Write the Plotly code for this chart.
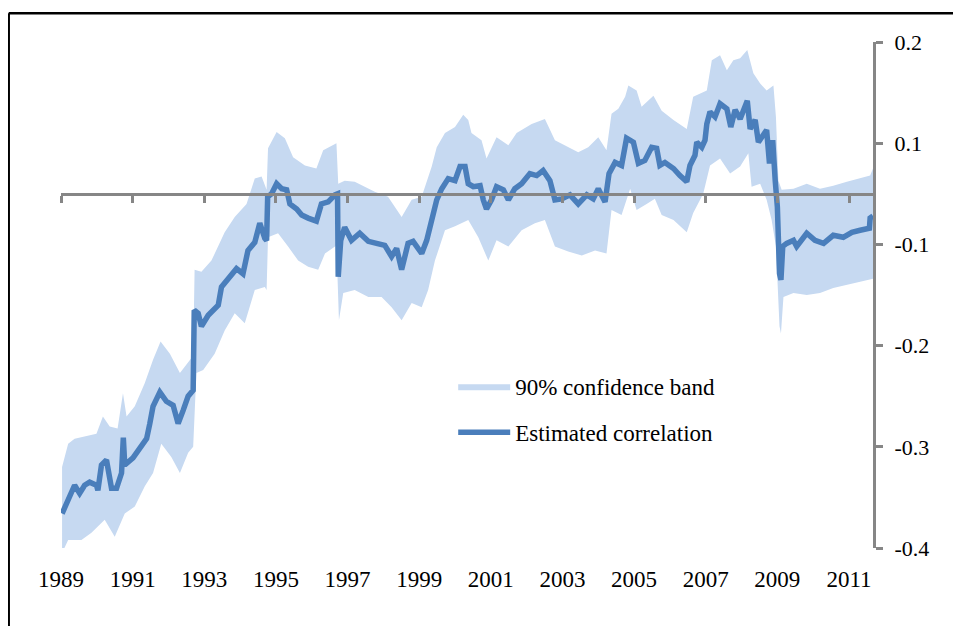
import plotly.graph_objects as go

# Estimated correlation (decimal years)
corr_year = [1989.03, 1989.20, 1989.38, 1989.52, 1989.66, 1989.80, 1989.99, 1990.03, 1990.13, 1990.27,
             1990.41, 1990.55, 1990.69, 1990.74, 1990.78, 1991.01, 1991.20, 1991.39, 1991.48, 1991.57,
             1991.76, 1991.94, 1992.13, 1992.27, 1992.41, 1992.55, 1992.69, 1992.72, 1992.83, 1992.92,
             1993.11, 1993.39, 1993.48, 1993.66, 1993.90, 1994.08, 1994.22, 1994.41, 1994.55, 1994.69,
             1994.74, 1994.77, 1994.88, 1995.02, 1995.16, 1995.30, 1995.39, 1995.58, 1995.72, 1995.90,
             1996.13, 1996.27, 1996.46, 1996.65, 1996.72, 1996.74, 1996.81, 1996.92, 1997.11, 1997.34,
             1997.58, 1997.81, 1998.04, 1998.23, 1998.37, 1998.51, 1998.69, 1998.83, 1999.07, 1999.21,
             1999.35, 1999.49, 1999.63, 1999.81, 2000.00, 2000.14, 2000.28, 2000.37, 2000.51, 2000.70,
             2000.79, 2000.88, 2001.02, 2001.16, 2001.35, 2001.49, 2001.67, 2001.86, 2002.09, 2002.28,
             2002.46, 2002.65, 2002.79, 2002.98, 2003.21, 2003.44, 2003.68, 2003.86, 2004.00, 2004.19,
             2004.30, 2004.47, 2004.65, 2004.79, 2004.98, 2005.12, 2005.30, 2005.49, 2005.63, 2005.72,
             2005.86, 2006.10, 2006.28, 2006.47, 2006.56, 2006.70, 2006.75, 2006.89, 2006.98, 2007.03,
             2007.12, 2007.26, 2007.40, 2007.59, 2007.70, 2007.82, 2007.96, 2008.10, 2008.16, 2008.24,
             2008.38, 2008.47, 2008.61, 2008.70, 2008.78, 2008.87, 2008.94, 2009.00, 2009.06, 2009.10,
             2009.15, 2009.26, 2009.45, 2009.54, 2009.82, 2010.05, 2010.29, 2010.56, 2010.84, 2011.08,
             2011.31, 2011.57, 2011.59, 2011.67]
corr_value = [-0.316, -0.301, -0.288, -0.296, -0.288, -0.285, -0.288, -0.293, -0.268, -0.263,
              -0.291, -0.291, -0.276, -0.241, -0.268, -0.261, -0.251, -0.242, -0.227, -0.210,
              -0.196, -0.205, -0.209, -0.227, -0.214, -0.200, -0.194, -0.115, -0.118, -0.131,
              -0.120, -0.110, -0.092, -0.084, -0.074, -0.079, -0.056, -0.048, -0.029, -0.044,
              -0.046, -0.003, 0.000, 0.010, 0.005, 0.004, -0.010, -0.015, -0.021, -0.024,
              -0.027, -0.010, -0.008, -0.001, 0.000, -0.082, -0.046, -0.033, -0.046, -0.039,
              -0.047, -0.049, -0.051, -0.062, -0.054, -0.075, -0.049, -0.047, -0.059, -0.046,
              -0.023, -0.006, 0.005, 0.015, 0.013, 0.027, 0.027, 0.010, 0.007, 0.008,
              -0.006, -0.015, -0.006, 0.007, 0.004, -0.006, 0.005, 0.010, 0.020, 0.018,
              0.023, 0.013, -0.006, -0.005, -0.001, -0.010, -0.001, -0.005, 0.005, -0.008,
              0.020, 0.031, 0.028, 0.055, 0.051, 0.030, 0.033, 0.046, 0.045, 0.028,
              0.031, 0.025, 0.018, 0.012, 0.028, 0.038, 0.051, 0.046, 0.053, 0.069,
              0.081, 0.076, 0.089, 0.084, 0.066, 0.083, 0.074, 0.089, 0.092, 0.064,
              0.073, 0.051, 0.060, 0.063, 0.030, 0.053, 0.013, -0.013, -0.079, -0.085,
              -0.052, -0.049, -0.046, -0.052, -0.039, -0.046, -0.049, -0.041, -0.043, -0.038,
              -0.036, -0.034, -0.024, -0.022]

# Upper edge of the 90% confidence band
upper_year = [1989.03, 1989.20, 1989.38, 1989.66, 1989.99, 1990.17, 1990.36, 1990.58, 1990.73, 1990.83,
              1991.06, 1991.34, 1991.57, 1991.78, 1992.04, 1992.32, 1992.55, 1992.69, 1992.73, 1992.92,
              1993.20, 1993.57, 1993.85, 1994.18, 1994.41, 1994.60, 1994.74, 1994.78, 1995.02, 1995.25,
              1995.48, 1995.81, 1996.13, 1996.32, 1996.69, 1996.74, 1996.92, 1997.20, 1997.48, 1997.76,
              1998.13, 1998.51, 1998.79, 1999.07, 1999.35, 1999.49, 1999.72, 2000.00, 2000.23, 2000.37,
              2000.46, 2000.74, 2000.88, 2001.16, 2001.49, 2001.72, 2002.14, 2002.51, 2002.79, 2003.07,
              2003.44, 2003.72, 2004.00, 2004.23, 2004.37, 2004.56, 2004.75, 2004.84, 2005.07, 2005.21,
              2005.54, 2005.77, 2006.10, 2006.47, 2006.65, 2007.03, 2007.17, 2007.40, 2007.59, 2007.77,
              2007.96, 2008.16, 2008.33, 2008.52, 2008.70, 2008.89, 2008.96, 2009.03, 2009.12, 2009.45,
              2009.82, 2010.19, 2010.56, 2010.94, 2011.31, 2011.59, 2011.67]
upper_value = [-0.270, -0.247, -0.242, -0.240, -0.237, -0.220, -0.230, -0.232, -0.197, -0.220,
               -0.210, -0.187, -0.164, -0.146, -0.158, -0.177, -0.166, -0.160, -0.075, -0.077,
               -0.066, -0.038, -0.023, -0.010, 0.015, 0.017, 0.004, 0.045, 0.061, 0.055,
               0.036, 0.028, 0.025, 0.043, 0.050, 0.010, 0.013, 0.012, 0.007, 0.002,
               -0.003, -0.023, -0.006, -0.003, 0.027, 0.046, 0.060, 0.066, 0.078, 0.073,
               0.060, 0.053, 0.035, 0.056, 0.048, 0.060, 0.069, 0.074, 0.053, 0.048,
               0.041, 0.046, 0.056, 0.043, 0.079, 0.084, 0.096, 0.107, 0.102, 0.086,
               0.097, 0.082, 0.073, 0.064, 0.096, 0.102, 0.132, 0.137, 0.122, 0.132,
               0.134, 0.142, 0.119, 0.109, 0.102, 0.107, 0.076, 0.013, 0.004, 0.005,
               0.010, 0.005, 0.008, 0.012, 0.015, 0.018, 0.025]

# Lower edge of the 90% confidence band
lower_year = [1989.03, 1989.20, 1989.57, 1989.85, 1990.22, 1990.50, 1990.78, 1991.06, 1991.34, 1991.57,
              1991.80, 1992.08, 1992.32, 1992.55, 1992.69, 1992.78, 1992.97, 1993.29, 1993.57, 1993.85,
              1994.13, 1994.41, 1994.69, 1994.74, 1994.78, 1995.06, 1995.34, 1995.62, 1995.90, 1996.18,
              1996.37, 1996.69, 1996.76, 1996.88, 1997.20, 1997.58, 1997.95, 1998.23, 1998.51, 1998.79,
              1999.07, 1999.25, 1999.44, 1999.72, 2000.00, 2000.37, 2000.65, 2000.93, 2001.16, 2001.49,
              2001.86, 2002.23, 2002.51, 2002.79, 2003.16, 2003.54, 2003.91, 2004.23, 2004.37, 2004.65,
              2004.89, 2005.07, 2005.35, 2005.58, 2005.77, 2006.10, 2006.47, 2006.65, 2006.93, 2007.12,
              2007.40, 2007.68, 2007.96, 2008.19, 2008.28, 2008.52, 2008.70, 2008.84, 2008.96, 2009.06,
              2009.10, 2009.17, 2009.45, 2009.82, 2010.19, 2010.56, 2010.94, 2011.31, 2011.67]
lower_value = [-0.355, -0.342, -0.342, -0.335, -0.322, -0.339, -0.316, -0.309, -0.289, -0.276,
               -0.247, -0.260, -0.276, -0.256, -0.250, -0.177, -0.174, -0.158, -0.135, -0.118,
               -0.128, -0.095, -0.092, -0.095, -0.043, -0.039, -0.052, -0.066, -0.072, -0.075,
               -0.059, -0.051, -0.125, -0.098, -0.095, -0.102, -0.102, -0.112, -0.125, -0.108,
               -0.112, -0.095, -0.066, -0.036, -0.032, -0.026, -0.043, -0.066, -0.046, -0.052,
               -0.036, -0.029, -0.026, -0.052, -0.057, -0.061, -0.056, -0.059, -0.016, -0.021,
               0.005, -0.016, -0.010, -0.005, -0.021, -0.026, -0.038, -0.019, 0.000, 0.028,
               0.035, 0.020, 0.027, 0.040, 0.007, 0.010, -0.006, -0.026, -0.052, -0.131,
               -0.138, -0.102, -0.098, -0.100, -0.098, -0.093, -0.090, -0.087, -0.084]

# Axis ticks
year_ticks = list(range(1989, 2012, 2))
year_labels = [str(y) for y in year_ticks]
y_ticks = [0.15, 0.05, -0.05, -0.15, -0.25, -0.35]
y_labels = ["0.2", "0.1", "-0.1", "-0.2", "-0.3", "-0.4"]

x_range = [1989.0, 2011.67]
y_range = [-0.35, 0.15]

BAND = "#C6D9F1"
LINE = "#4A7EBB"
AXIS = "#868686"
FONT = "Liberation Serif, Times New Roman, serif"

fig = go.Figure()

# confidence band as one closed polygon
fig.add_trace(go.Scatter(
    x=upper_year + lower_year[::-1],
    y=upper_value + lower_value[::-1],
    fill="toself", fillcolor=BAND,
    mode="lines", line=dict(width=0, color=BAND),
    name="90% confidence band", legendgroup="band",
    hoverinfo="skip",
))

# estimated correlation drawn on the zero-crossing axis
fig.add_trace(go.Scatter(
    x=corr_year, y=corr_value,
    mode="lines", line=dict(color=LINE, width=5.5),
    name="Estimated correlation", legendgroup="corr",
    xaxis="x2", yaxis="y",
))

# the page body adds an 8px offset, so the figure is 8px smaller than the window
fig.update_layout(
    width=953, height=618,
    margin=dict(l=53, r=88, t=34, b=78),
    paper_bgcolor="white", plot_bgcolor="white",
    font=dict(family=FONT, size=22, color="black"),
    showlegend=True,
    legend=dict(
        x=0.483, y=0.362, xanchor="left", yanchor="top",
        bgcolor="rgba(0,0,0,0)", itemwidth=52, tracegroupgap=13,
        font=dict(family=FONT, size=23),
    ),
    xaxis=dict(
        range=x_range, showgrid=False, zeroline=False, showline=False,
        ticks="", tickvals=year_ticks, ticktext=year_labels,
        ticklabelstandoff=15, tickfont=dict(size=23),
    ),
    xaxis2=dict(
        range=x_range, overlaying="x", anchor="free", position=0.7,
        showgrid=False, zeroline=False, showline=True,
        linecolor=AXIS, linewidth=3,
        ticks="outside", ticklen=7, tickwidth=3, tickcolor=AXIS,
        tickvals=year_ticks, showticklabels=False,
    ),
    yaxis=dict(
        range=y_range, side="right", showgrid=False, zeroline=False,
        showline=True, linecolor=AXIS, linewidth=3,
        ticks="outside", ticklen=7, tickwidth=3, tickcolor=AXIS,
        tickvals=y_ticks, ticktext=y_labels, ticklabelstandoff=7,
    ),
    shapes=[
        # frame edges visible at the top and left of the picture
        dict(type="line", xref="paper", yref="paper", x0=-0.0644, x1=1.12, y0=1.0567, y1=1.0567,
             line=dict(color="black", width=2.5)),
        dict(type="line", xref="paper", yref="paper", x0=-0.0644, x1=-0.0644, y0=1.0567, y1=-0.2,
             line=dict(color="black", width=2.5)),
    ],
)

fig.write_html("out.html")
